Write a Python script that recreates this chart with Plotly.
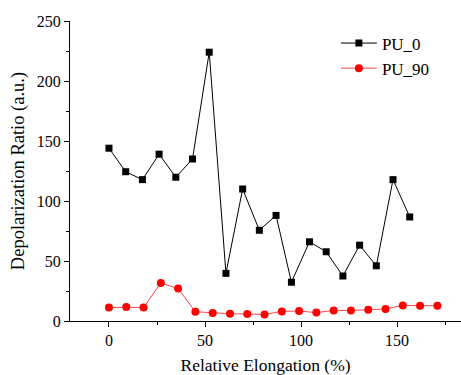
import plotly.graph_objects as go

pu0_x = [0, 8.7, 17.4, 26.1, 34.8, 43.5, 52.2, 60.9, 69.6, 78.3, 87.0, 95.0,
         104.4, 113.1, 121.8, 130.5, 139.2, 147.9, 156.6]
pu0_y = [144, 124.4, 117.8, 139, 119.8, 135, 224, 39.7, 110, 75.6, 88, 32.3,
         66, 57.7, 37.5, 63.2, 46, 117.8, 86.7]

pu90_x = [0, 9, 18, 27, 36, 45, 54, 63, 72, 81, 90, 99, 108, 117, 126, 135,
          144, 153, 162, 171]
pu90_y = [11.3, 11.6, 11.3, 31.7, 27, 7.7, 6.6, 6.1, 5.8, 5.5, 8, 8.3, 7,
          8.8, 8.8, 9.4, 10, 13, 12.7, 12.7]

font = "Times New Roman, Tinos, Liberation Serif, DejaVu Serif, serif"

fig = go.Figure()
fig.add_trace(go.Scatter(
    x=pu0_x, y=pu0_y, name="PU_0", mode="lines+markers",
    line=dict(color="black", width=1),
    marker=dict(symbol="square", size=7, color="black"),
))
fig.add_trace(go.Scatter(
    x=pu90_x, y=pu90_y, name="PU_90", mode="lines+markers",
    line=dict(color="rgba(255,40,40,0.85)", width=1),
    marker=dict(symbol="circle", size=8, color="red"),
))

fig.update_layout(
    width=461, height=375,
    margin=dict(l=70, r=0, t=21, b=52),
    paper_bgcolor="white", plot_bgcolor="white",
    font=dict(family=font, size=16, color="black"),
    showlegend=True,
    legend=dict(x=0.68, y=0.985, xanchor="left", yanchor="top",
                bgcolor="rgba(0,0,0,0)", font=dict(size=17, family=font, color="black"),
                itemwidth=36, tracegroupgap=0),
    xaxis=dict(
        range=[-20.3, 183.3], showgrid=False, zeroline=False,
        showline=True, linecolor="black", linewidth=1,
        ticks="outside", ticklen=5, tickwidth=1, tickcolor="black",
        tickvals=[0, 50, 100, 150],
        minor=dict(tickvals=[25, 75, 125, 175], ticks="outside", ticklen=3,
                   tickcolor="black", tickwidth=1),
        tickfont=dict(size=16, family=font, color="black"),
        title=dict(text="Relative Elongation (%)",
                   font=dict(size=17.5, family=font, color="black"), standoff=14),
    ),
    yaxis=dict(
        range=[0, 250], showgrid=False, zeroline=False,
        showline=True, linecolor="black", linewidth=1,
        ticks="outside", ticklen=5, tickwidth=1, tickcolor="black",
        tickvals=[0, 50, 100, 150, 200, 250],
        minor=dict(tickvals=[25, 75, 125, 175, 225], ticks="outside", ticklen=3,
                   tickcolor="black", tickwidth=1),
        tickfont=dict(size=16, family=font, color="black"),
        title=dict(text="Depolarization Ratio (a.u.)",
                   font=dict(size=18.5, family=font, color="black"), standoff=7),
    ),
)

fig.write_html("out.html")
